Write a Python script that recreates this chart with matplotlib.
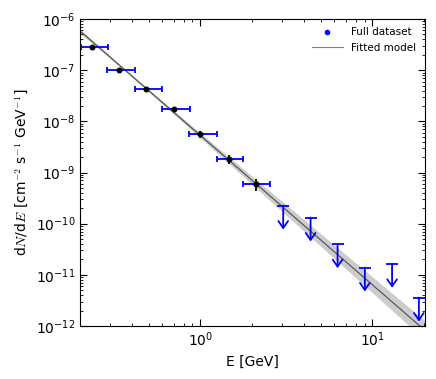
import numpy as np
import matplotlib
matplotlib.use('Agg')
import matplotlib.pyplot as plt

plt.rcParams['mathtext.fontset'] = 'cm'
plt.rcParams['font.family'] = 'DejaVu Sans'

# Flux points (GeV, cm^-2 s^-1 GeV^-1)
energy = [0.235, 0.339, 0.486, 0.700, 1.00, 1.46, 2.10]
energy_lo = [0.203, 0.288, 0.416, 0.600, 0.862, 1.25, 1.77]
energy_hi = [0.290, 0.418, 0.602, 0.868, 1.25, 1.77, 2.55]
flux = [2.84e-7, 9.9e-8, 4.2e-8, 1.72e-8, 5.6e-9, 1.82e-9, 6.0e-10]
flux_err = [2.5e-8, 7.5e-9, 3.0e-9, 1.6e-9, 8.0e-10, 3.5e-10, 1.6e-10]

# Upper limits
ul_energy = [3.03, 4.37, 6.27, 9.03, 13.0, 18.6]
ul_flux = [2.26e-10, 1.32e-10, 3.98e-11, 1.39e-11, 1.64e-11, 3.6e-12]
ul_arrow = 0.34   # arrow tip at this fraction of the limit

# Fitted power law and its uncertainty band
norm = 5.3e-9       # at 1 GeV
index = 2.92
pivot = 0.4
norm_err_dex = 0.025
index_err = 0.11

E = np.logspace(np.log10(0.2), np.log10(20.1), 200)
model = norm * E ** (-index)
sig = np.sqrt(norm_err_dex ** 2 + (index_err * np.log10(E / pivot)) ** 2)

fig = plt.figure(figsize=(4.36, 3.79), dpi=100)
ax = fig.add_axes([0.1835, 0.1398, 0.7905, 0.8101])

ax.fill_between(E, model * 10 ** (-sig), model * 10 ** sig, color='0.8', lw=0)
ax.plot(E, model, color='0.3', lw=0.8)

energy = np.array(energy)
xerr = [energy - np.array(energy_lo), np.array(energy_hi) - energy]
ax.errorbar(energy, flux, xerr=xerr, fmt='none', ecolor='blue', elinewidth=1.3,
            capsize=2, capthick=1.3)
ax.errorbar(energy, flux, yerr=flux_err, fmt='o', color='black', ms=3.3,
            elinewidth=1.3, capsize=0)

# upper limits: cap on top, open arrow pointing down
for e, f in zip(ul_energy, ul_flux):
    ax.annotate('', xy=(e, f * ul_arrow), xytext=(e, f),
                arrowprops=dict(arrowstyle='->,head_length=0.5,head_width=0.35',
                                color='blue', lw=1.3, shrinkA=0, shrinkB=0))
ax.plot(ul_energy, ul_flux, ls='none', marker='_', color='blue', ms=8, mew=1.3)

ax.plot([], [], 'o', color='blue', ms=3, label='Full dataset')
ax.plot([], [], color='0.5', lw=0.8, label='Fitted model')
ax.legend(loc='upper right', frameon=False, fontsize=7.5, handlelength=3,
          borderaxespad=0.4, labelspacing=0.5)

ax.set_xscale('log')
ax.set_yscale('log')
ax.set_xlim(0.2, 20.1)
ax.set_ylim(1e-12, 1e-6)
ax.set_xlabel('E [GeV]', fontsize=10)
ax.set_ylabel(r'd$N$/d$E$ [cm$^{-2}$ s$^{-1}$ GeV$^{-1}$]', fontsize=10)
ax.tick_params(which='both', direction='in', top=True, right=True, labelsize=10)
ax.tick_params(which='major', length=5)
ax.tick_params(which='minor', length=2.5)
ax.yaxis.set_major_locator(matplotlib.ticker.LogLocator(base=10, numticks=10))
ax.yaxis.set_minor_locator(matplotlib.ticker.LogLocator(base=10, subs=np.arange(2, 10), numticks=10))

fig.savefig('out.png', dpi=100)
